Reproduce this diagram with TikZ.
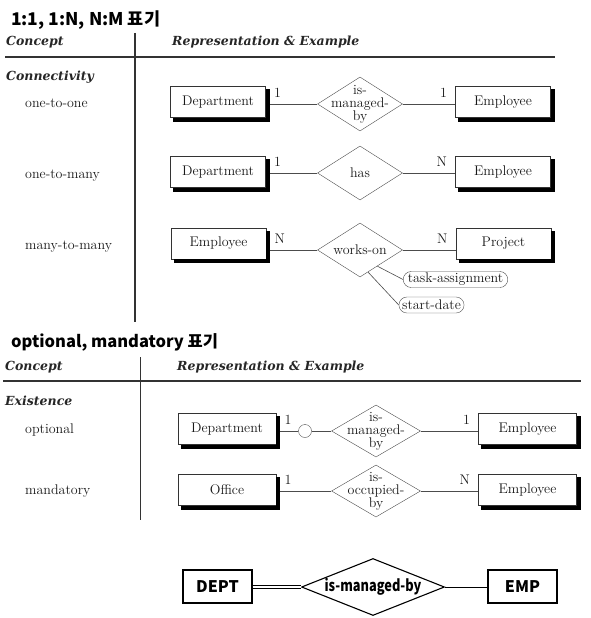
\documentclass[tikz,border=0pt]{standalone}
\usepackage{fontspec}
\usepackage{tikz}
\usetikzlibrary{positioning,shapes.geometric,shapes.misc}
\newfontfamily\krfont{Noto Sans CJK KR}
\newfontfamily\krnarrow{Noto Sans CJK KR}[FakeStretch=0.8]
\newfontfamily\headfont{DejaVu Serif}

\begin{document}
\begin{tikzpicture}[x=1pt,y=-1pt,
  er/.style={font=\fontsize{14}{15}\selectfont,text=black!90},
  head/.style={font=\headfont\bfseries\itshape\fontsize{12.5}{15}\selectfont,text=black!85,anchor=base west,inner sep=0},
  concept/.style={er,anchor=base west,inner sep=0},
  title/.style={font=\krfont\bfseries\fontsize{16.5}{18}\selectfont,anchor=base west,inner sep=0},
  entity/.style={er,draw=black!80,fill=white,minimum width=95,minimum height=31,inner sep=0},
  shadowfill/.style={fill=black},
  rel/.style={diamond,draw=black!70,minimum width=85,minimum height=54,inner sep=0},
  reltext/.style={font=\fontsize{14}{13}\selectfont,text=black!90,align=center,inner sep=0},
  attr/.style={er,rounded rectangle,draw=black!70,inner sep=1.5pt,minimum height=16},
  link/.style={draw=black!70,line width=.6pt},
  card/.style={er,inner sep=0},
  lcard/.style={card,anchor=south west,xshift=8pt,yshift=6pt},
  rcard/.style={card,anchor=south east,xshift=-8pt,yshift=6pt},
  rule/.style={line width=1.8pt,black!80},
  colline/.style={line width=1.3pt,black!80},
  box/.style={draw,line width=1.1pt,minimum width=69,minimum height=33,inner sep=0,
    font=\krfont\bfseries\fontsize{16}{16}\selectfont}]

  \useasboundingbox (0,0) rectangle (591,618);

  % connectivity table
  \node[title, font=\krfont\bfseries\fontsize{17.5}{18}\selectfont] (t1) at (11,26) {1:1, 1:N, N:M 표기};
  \node[head] (c1) at (6,46) {Concept};
  \node[head] (re1) at (172,46) {Representation \& Example};
  \draw[rule] (5,57) -- (555,57);
  \draw[colline] (135,33) -- (135,322);
  \node[head] (cn) at (6,80) {Connectivity};
  \node[concept] (k1) at (25,107) {one-to-one};
  \node[concept] (k2) at (25,178) {one-to-many};
  \node[concept] (k3) at (25,249) {many-to-many};

  \node[entity] (d1) at (218,102) {Department};
  \node[rel, label={[reltext]center:{is-\\managed-\\by}}] (r1) at (360,104) {};
  \node[entity] (e1) at (503,102) {Employee};

  \node[entity] (d2) at (218,172) {Department};
  \node[rel, label={[reltext]center:has}] (r2) at (360,173) {};
  \node[entity] (e2) at (503,172) {Employee};

  \node[entity] (e3) at (218.5,243.5) {Employee};
  \node[rel, label={[reltext]center:works-on}] (r3) at (360,250) {};
  \node[entity] (p3) at (503.5,243.5) {Project};
  \node[attr] (a1) at (455.5,279.5) {task-assignment};
  \node[attr] (a2) at (431.5,305) {start-date};

  \path[link]
    (d1.east |- r1) edge node[lcard, pos=0] {1} (r1.west)
    (r1.east) edge node[rcard, pos=1] {1} (e1.west |- r1)

    (d2.east |- r2) edge node[lcard, pos=0] {1} (r2.west)
    (r2.east) edge node[rcard, pos=1] {N} (e2.west |- r2)

    (e3.east |- r3) edge node[lcard, pos=0] {N} (r3.west)
    (r3.east) edge node[rcard, pos=1] {N} (p3.west |- r3)
    (r3.-43) edge (a1.west)
    (r3.-70) edge (a2.west);

  % existence table
  \node[title] (t2) at (11,347) {optional, mandatory 표기};
  \node[head] (c2) at (5,370) {Concept};
  \node[head] (re2) at (177,370) {Representation \& Example};
  \draw[rule] (3,381) -- (581,381);
  \draw[colline] (140.5,357) -- (140.5,520);
  \node[head] (ex) at (5,405) {Existence};
  \node[concept] (k4) at (25,433) {optional};
  \node[concept] (k5) at (25,494) {mandatory};

  \node[entity, minimum width=98] (d4) at (227,429) {Department};
  \node[circle, draw=black!70, minimum size=13, inner sep=0] (o4) at (305,431) {};
  \node[rel, minimum width=89, minimum height=52,
    label={[reltext]center:{is-\\managed-\\by}}] (r4) at (376,431) {};
  \node[entity, minimum width=98] (e4) at (527.5,429) {Employee};

  \node[entity, minimum width=98] (f5) at (227,490) {Office};
  \node[rel, minimum width=89, minimum height=52,
    label={[reltext]center:{is-\\occupied-\\by}}] (r5) at (376,491) {};
  \node[entity, minimum width=98] (e5) at (527.5,490) {Employee};

  \path[link]
    (d4.east |- o4) edge node[lcard, pos=0] {1} (o4.west)
    (o4.east) edge (r4.west)
    (r4.east) edge node[rcard, pos=1] {1} (e4.west |- r4)

    (f5.east |- r5) edge node[lcard, pos=0] {1} (r5.west)
    (r5.east) edge node[rcard, pos=1] {N} (e5.west |- r5);

  % shadows of the entity boxes
  \foreach \ent in {d1,e1,d2,e2,e3,p3,d4,e4,f5,e5}{
    \path[shadowfill] ([yshift=-3pt]\ent.north east) rectangle ([shift={(4pt,-4pt)}]\ent.south east);
    \path[shadowfill] ([xshift=3pt]\ent.south west) rectangle ([shift={(4pt,-4pt)}]\ent.south east);
  }

  % bottom example
  \node[box] (dept) at (217.5,586.5) {DEPT};
  \node[diamond, draw, line width=1.1pt, minimum width=143, minimum height=57, inner sep=0,
    label={[font=\krnarrow\bfseries\fontsize{16}{16}\selectfont, inner sep=0]center:is-managed-by}] (r6) at (373,587) {};
  \node[box] (emp) at (522.5,586.5) {EMP};
  \draw[double, line width=.7pt, double distance=2.2pt] (dept.east |- r6) -- (r6.west);
  \draw[line width=1pt] (r6.east) -- (emp.west |- r6);
\end{tikzpicture}
\end{document}
